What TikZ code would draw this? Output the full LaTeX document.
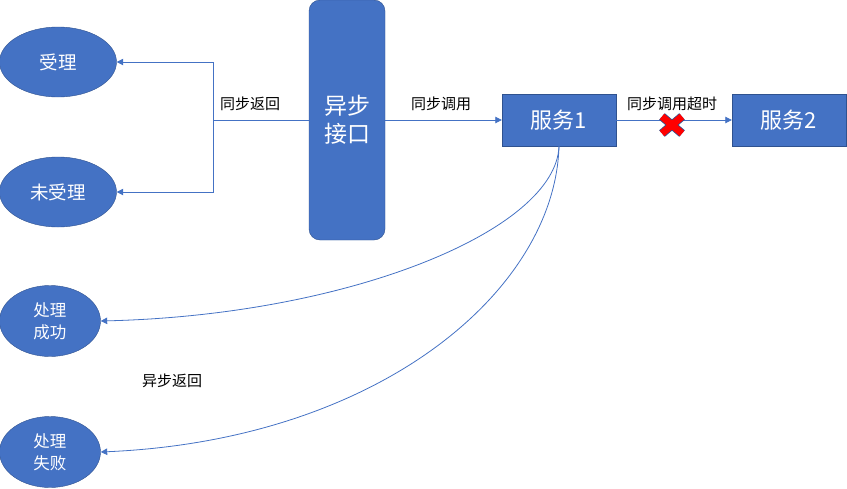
\documentclass[tikz,border=0pt]{standalone}
\usepackage{fontspec}
\setmainfont{Noto Sans CJK SC}
\usetikzlibrary{arrows.meta,shapes.geometric}
\definecolor{boxblue}{HTML}{4472C4}
\definecolor{edgeblue}{HTML}{2F528F}
\begin{document}
\begin{tikzpicture}[x=1pt,y=-1pt,
    oval/.style={ellipse,draw=edgeblue,fill=boxblue,text=white,inner sep=0pt,
      minimum width=117pt,minimum height=70pt,font=\fontsize{18.5}{22}\selectfont},
    twoline/.style={oval,align=center,minimum width=101pt,minimum height=71pt,
      font=\fontsize{16.5}{22}\selectfont},
    service/.style={rectangle,draw=edgeblue,fill=boxblue,text=white,
      minimum width=114pt,minimum height=52pt,font=\fontsize{22}{26}\selectfont},
    lbl/.style={font=\fontsize{15}{18}\selectfont},
    flow/.style={draw=boxblue,line width=0.8pt,-{Triangle[width=6.5pt,length=6.5pt]}}]
    \useasboundingbox (0,0) rectangle (847,488);
    \node[oval] (accepted) at (58,62) {受理};
    \node[oval] (rejected) at (58,192) {未受理};
    \node[twoline] (success) at (50,321) {处理\\成功};
    \node[twoline] (failure) at (50,452) {处理\\失败};

    \node[rectangle,rounded corners=11pt,draw=edgeblue,fill=boxblue,text=white,
      minimum width=76pt,minimum height=240pt,align=center,
      font=\fontsize{23}{28}\selectfont] (api) at (347,120) {异步\\接口};
    \node[service] (s1) at (559,120) {服务1};
    \node[service] (s2) at (789,120) {服务2};

    \coordinate (fork) at (213,120);
    \coordinate (cut) at (672,125);

    \node[lbl] (back) at (250,104) {同步返回};
    \node[lbl] (call) at (441,104) {同步调用};
    \node[lbl] (timeout) at (672,104) {同步调用超时};
    \node[lbl] (async) at (172,381) {异步返回};

    \draw[draw=boxblue,line width=0.8pt] (api) -- (fork);
    \path (fork) edge[flow,to path={|- (\tikztotarget)}] (accepted.east)
          (fork) edge[flow,to path={|- (\tikztotarget)}] (rejected.east)
          (api) edge[flow] (s1)
          (s1) edge[flow] (s2)
          (s1.south) edge[flow,to path={.. controls (556,230) and (350,315) .. (\tikztotarget)}] (success.east)
          (s1.south) edge[flow,to path={.. controls (555,290) and (380,440) .. (\tikztotarget)}] (failure.east);

    % red cross on the timeout call
    \draw[edgeblue,line width=8.6pt] ([shift={(-10,-8.5)}]cut) -- ([shift={(10,8.5)}]cut)
         ([shift={(-10,8.5)}]cut) -- ([shift={(10,-8.5)}]cut);
    \draw[red,line width=7pt] ([shift={(-10,-8.5)}]cut) -- ([shift={(10,8.5)}]cut)
         ([shift={(-10,8.5)}]cut) -- ([shift={(10,-8.5)}]cut);
\end{tikzpicture}
\end{document}
